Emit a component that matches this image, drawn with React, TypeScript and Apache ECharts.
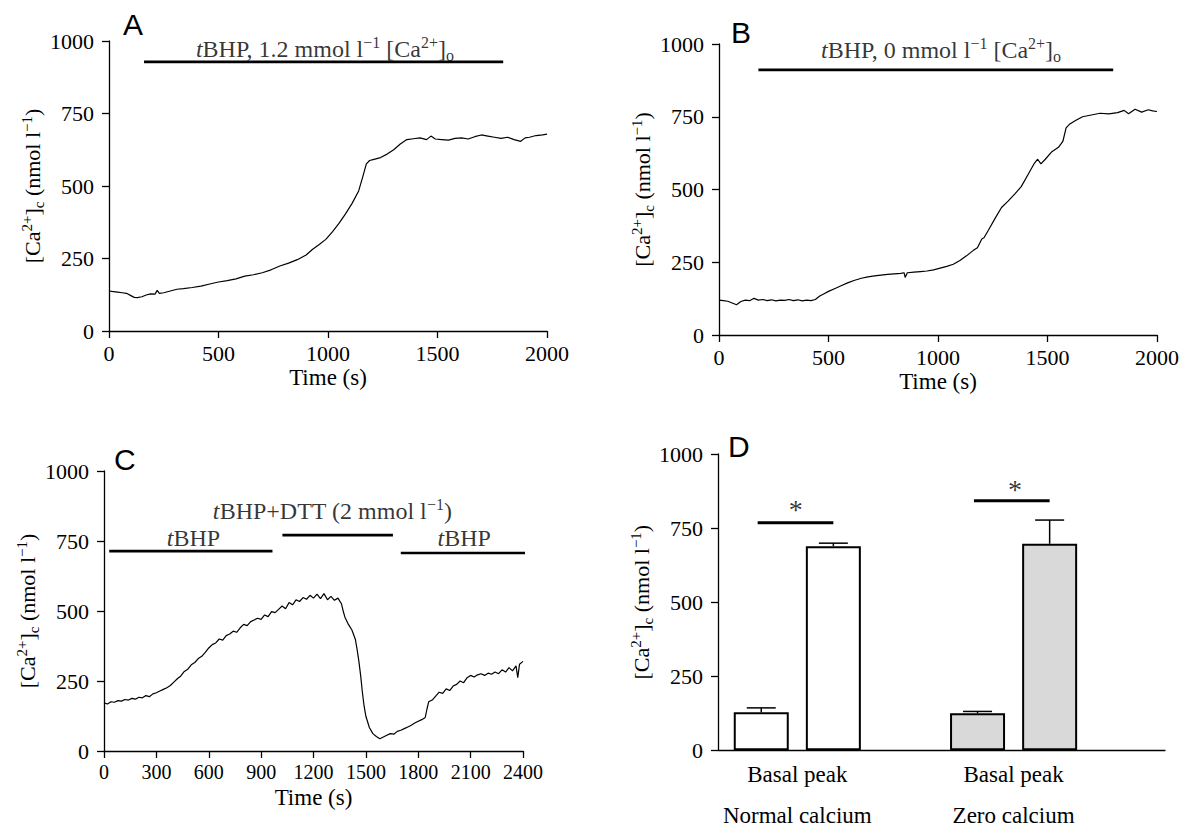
import React, { useEffect, useRef } from 'react';
import * as echarts from 'echarts';

// ---------- Panel A ----------
const timeA = [0, 20, 40, 60, 80, 100, 115, 130, 150, 170, 190, 210, 220, 230, 250, 280, 310, 340, 380, 420, 460, 500, 540, 580, 620, 660, 700, 740, 780, 820, 860, 900, 930, 960, 990, 1020, 1050, 1080, 1110, 1140, 1160, 1175, 1190, 1210, 1240, 1270, 1300, 1330, 1360, 1390, 1420, 1450, 1470, 1490, 1520, 1550, 1580, 1610, 1640, 1670, 1700, 1730, 1760, 1790, 1820, 1850, 1880, 1900, 1920, 1950, 1980, 2000];
const caA = [138, 136, 134, 132, 130, 122, 116, 115, 118, 124, 128, 127, 140, 130, 132, 138, 144, 146, 150, 155, 162, 169, 174, 180, 189, 194, 201, 211, 224, 234, 246, 262, 282, 298, 316, 342, 371, 404, 440, 483, 535, 576, 588, 592, 598, 610, 625, 645, 660, 663, 666, 660, 672, 662, 660, 658, 664, 666, 662, 670, 676, 672, 668, 664, 668, 660, 654, 666, 668, 674, 676, 679];
const treatA = [[160, 1800, 928]];
const labelA = [[986, 972]];

// ---------- Panel B ----------
const timeB = [0, 20, 40, 60, 80, 100, 120, 140, 160, 180, 200, 220, 240, 260, 280, 300, 320, 340, 360, 380, 400, 420, 440, 460, 480, 500, 530, 560, 590, 620, 650, 680, 710, 740, 770, 800, 830, 845, 850, 860, 890, 920, 950, 980, 1010, 1040, 1070, 1100, 1130, 1160, 1180, 1200, 1210, 1230, 1260, 1290, 1320, 1350, 1380, 1410, 1440, 1455, 1470, 1490, 1520, 1550, 1570, 1585, 1600, 1630, 1660, 1700, 1740, 1780, 1820, 1850, 1870, 1900, 1930, 1960, 1980, 2000];
const caB = [120, 118, 116, 110, 104, 115, 120, 118, 126, 120, 122, 118, 121, 117, 120, 119, 122, 118, 121, 117, 120, 118, 122, 134, 142, 150, 160, 170, 180, 188, 195, 200, 203, 206, 208, 210, 212, 214, 198, 214, 216, 218, 220, 224, 230, 236, 243, 256, 272, 290, 300, 330, 334, 360, 400, 438, 460, 484, 510, 550, 590, 604, 588, 604, 630, 645, 665, 712, 724, 738, 750, 756, 762, 760, 764, 772, 760, 776, 766, 774, 770, 768];
const treatB = [[180, 1800, 911]];
const labelB = [[1014, 980]];

// ---------- Panel C ----------
const timeC = [0, 20, 40, 60, 80, 100, 120, 140, 160, 180, 200, 220, 240, 260, 280, 300, 320, 340, 360, 380, 400, 420, 440, 460, 480, 500, 520, 540, 560, 580, 600, 620, 640, 660, 680, 700, 720, 740, 760, 780, 800, 820, 840, 860, 880, 900, 920, 940, 960, 980, 1000, 1020, 1040, 1060, 1080, 1100, 1120, 1140, 1160, 1180, 1200, 1220, 1240, 1260, 1280, 1300, 1320, 1340, 1360, 1370, 1380, 1400, 1420, 1440, 1450, 1460, 1470, 1480, 1490, 1500, 1520, 1540, 1560, 1580, 1600, 1620, 1640, 1660, 1680, 1700, 1720, 1740, 1760, 1780, 1800, 1820, 1840, 1850, 1860, 1880, 1900, 1920, 1940, 1960, 1980, 2000, 2020, 2040, 2060, 2080, 2100, 2120, 2140, 2160, 2180, 2200, 2220, 2240, 2260, 2280, 2300, 2320, 2340, 2360, 2370, 2380, 2400];
const caC = [172, 168, 176, 174, 180, 178, 184, 182, 188, 185, 192, 190, 198, 194, 204, 208, 214, 220, 226, 234, 246, 258, 268, 284, 292, 308, 316, 330, 338, 352, 368, 380, 386, 400, 396, 412, 418, 428, 424, 440, 452, 448, 462, 468, 474, 470, 486, 480, 498, 494, 506, 518, 508, 530, 522, 540, 534, 548, 542, 556, 546, 560, 544, 562, 540, 552, 538, 546, 526, 500, 478, 452, 432, 398, 362, 320, 270, 210, 160, 124, 84, 62, 52, 44, 50, 56, 62, 60, 70, 74, 80, 86, 92, 100, 106, 112, 120, 150, 176, 182, 196, 210, 206, 222, 216, 232, 238, 250, 244, 262, 270, 264, 272, 276, 270, 278, 274, 282, 276, 290, 282, 298, 286, 304, 262, 310, 320];
const treatC = [[30, 965, 714], [1022, 1655, 771], [1700, 2427, 707]];
const labelC = [[512, 762], [1308, 857], [2063, 762]];

// ---------- Panel D ----------
const barPositions = [0, 1, 3, 4];
const barMeans = [128, 689, 125, 697];
const barErrors = [15, 10, 6, 80];
const barColors = ['#ffffff', '#ffffff', '#d9d9d9', '#d9d9d9'];
const groupCenters = [0.5, 3.5];
const groupNames = ['Normal calcium', 'Zero calcium'];
const sigLines = [[-0.05, 1.0, 768], [2.95, 4.0, 842]];
const stars = [[0.48, 812], [3.52, 879]];

const yTicks = { min: 0, max: 1000, interval: 250 };

const SERIF = 'Liberation Serif, Times New Roman, serif';
const SANS = 'Liberation Sans, Arial, sans-serif';

function makeRich(size: number, supSize: number, lh: number) {
  return {
    n: { fontFamily: SERIF, fontSize: size, lineHeight: lh, color: '#000' },
    it: { fontFamily: SERIF, fontSize: size, lineHeight: lh, fontStyle: 'italic', color: '#000' },
    sup: { fontFamily: SERIF, fontSize: supSize, lineHeight: supSize, verticalAlign: 'top', color: '#000' },
    sub: { fontFamily: SERIF, fontSize: supSize, lineHeight: supSize, verticalAlign: 'bottom', color: '#000' },
  };
}
const nameRich = makeRich(22, 15, 27);
const titleRich = makeRich(24, 16, 29);

const yName = '{n|[Ca}{sup|2+}{n|]}{sub|c}{n| (nmol l}{sup|−1}{n|)}';

const plain = (v: number) => String(v);

function yAxis(gridIndex: number) {
  return {
    type: 'value',
    gridIndex,
    min: yTicks.min,
    max: yTicks.max,
    interval: yTicks.interval,
    name: yName,
    nameLocation: 'middle',
    nameRotate: 90,
    nameGap: 63,
    nameTextStyle: { fontFamily: SERIF, fontSize: 22, color: '#000', lineHeight: 27, rich: nameRich },
    axisLine: { show: true, onZero: false, lineStyle: { color: '#000', width: 1.3 } },
    axisTick: { show: true, length: 7, lineStyle: { color: '#000', width: 1.3 } },
    axisLabel: { fontFamily: SERIF, fontSize: 22, color: '#000', margin: 15, formatter: plain },
    splitLine: { show: false },
  };
}

function xAxis(gridIndex: number, max: number, interval: number, fontSize: number) {
  return {
    type: 'value',
    gridIndex,
    min: 0,
    max,
    interval,
    name: 'Time (s)',
    nameLocation: 'middle',
    nameGap: 35,
    nameTextStyle: { fontFamily: SERIF, fontSize: 23, color: '#000' },
    axisLine: { show: true, onZero: false, lineStyle: { color: '#000', width: 1.3 } },
    axisTick: { show: true, length: 7, lineStyle: { color: '#000', width: 1.3 } },
    axisLabel: { fontFamily: SERIF, fontSize, color: '#000', margin: 11, formatter: plain },
    splitLine: { show: false },
  };
}

function trace(idx: number, t: number[], v: number[]) {
  return {
    type: 'line',
    xAxisIndex: idx,
    yAxisIndex: idx,
    data: t.map((x, i) => [x, v[i]]),
    showSymbol: false,
    symbol: 'none',
    lineStyle: { color: '#000', width: 1.2 },
    silent: true,
  };
}

function treatLines(idx: number, rows: number[][]) {
  return rows.map((r) => ({
    type: 'line',
    xAxisIndex: idx,
    yAxisIndex: idx,
    data: [[r[0], r[2]], [r[1], r[2]]],
    showSymbol: false,
    symbol: 'none',
    clip: false,
    lineStyle: { color: '#000', width: 2.6 },
    silent: true,
  }));
}

function textLabels(idx: number, pts: number[][], texts: string[]) {
  return {
    type: 'scatter',
    xAxisIndex: idx,
    yAxisIndex: idx,
    symbolSize: 1,
    itemStyle: { color: 'rgba(0,0,0,0)' },
    silent: true,
    clip: false,
    data: pts.map((p, i) => ({
      value: p,
      label: {
        show: true,
        position: 'inside',
        formatter: texts[i],
        fontFamily: SERIF,
        fontSize: 24,
        lineHeight: 29,
        color: '#000',
        rich: titleRich,
      },
    })),
  };
}

export default function App() {
  const ref = useRef<HTMLDivElement>(null);
  useEffect(() => {
    if (!ref.current) return;
    const chart = echarts.init(ref.current, null, { renderer: 'svg' });

    const option: any = {
      animation: false,
      backgroundColor: '#fff',
      textStyle: { fontFamily: SERIF, color: '#000' },
      grid: [
        { left: 109, top: 41, width: 438, height: 290 },
        { left: 719, top: 44, width: 438, height: 291 },
        { left: 104, top: 471, width: 419, height: 280 },
        { left: 718, top: 454, width: 447, height: 299 },
      ],
      xAxis: [
        xAxis(0, 2000, 500, 22),
        xAxis(1, 2000, 500, 22),
        xAxis(2, 2400, 300, 20),
        {
          type: 'value',
          gridIndex: 3,
          min: -0.6,
          max: 5.6,
          axisLine: { show: true, onZero: false, lineStyle: { color: '#000', width: 1.3 } },
          axisTick: { show: false },
          splitLine: { show: false },
          axisLabel: {
            customValues: groupCenters,
            fontFamily: SERIF,
            fontSize: 23,
            lineHeight: 20.5,
            color: '#000',
            margin: 14,
            formatter: (v: number) => {
              const i = groupCenters.indexOf(v);
              return i >= 0 ? 'Basal peak\n\n' + groupNames[i] : '';
            },
          },
        },
      ],
      yAxis: [yAxis(0), yAxis(1), yAxis(2), yAxis(3)],
      graphic: [
        { type: 'text', x: 123, y: 9, style: { text: 'A', fontFamily: SANS, fontSize: 30, fill: '#000' } },
        { type: 'text', x: 731, y: 17, style: { text: 'B', fontFamily: SANS, fontSize: 30, fill: '#000' } },
        { type: 'text', x: 114, y: 444, style: { text: 'C', fontFamily: SANS, fontSize: 30, fill: '#000' } },
        { type: 'text', x: 728, y: 431, style: { text: 'D', fontFamily: SANS, fontSize: 30, fill: '#000' } },
      ],
      series: [
        trace(0, timeA, caA),
        ...treatLines(0, treatA),
        textLabels(0, labelA, ['{it|t}{n|BHP, 1.2 mmol l}{sup|−1}{n| [Ca}{sup|2+}{n|]}{sub|o}']),
        trace(1, timeB, caB),
        ...treatLines(1, treatB),
        textLabels(1, labelB, ['{it|t}{n|BHP, 0 mmol l}{sup|−1}{n| [Ca}{sup|2+}{n|]}{sub|o}']),
        trace(2, timeC, caC),
        ...treatLines(2, treatC),
        textLabels(2, labelC, ['{it|t}{n|BHP}', '{it|t}{n|BHP+DTT (2 mmol l}{sup|−1}{n|)}', '{it|t}{n|BHP}']),
        {
          type: 'bar',
          xAxisIndex: 3,
          yAxisIndex: 3,
          barWidth: 55,
          silent: true,
          data: barPositions.map((p, i) => ({
            value: [p, barMeans[i]],
            itemStyle: { color: barColors[i], borderColor: '#000', borderWidth: 2 },
          })),
        },
        {
          type: 'custom',
          xAxisIndex: 3,
          yAxisIndex: 3,
          silent: true,
          z: 5,
          encode: { x: 0, y: 1 },
          data: barPositions.map((p, i) => [p, barMeans[i], barErrors[i]]),
          renderItem: (params: any, api: any) => {
            const x = api.value(0);
            const y = api.value(1);
            const e = api.value(2);
            const p0 = api.coord([x, y]);
            const p1 = api.coord([x, y + e]);
            const half = 14.5;
            return {
              type: 'group',
              children: [
                { type: 'line', shape: { x1: p0[0], y1: p0[1], x2: p1[0], y2: p1[1] }, style: { stroke: '#000', lineWidth: 1.5 } },
                { type: 'line', shape: { x1: p1[0] - half, y1: p1[1], x2: p1[0] + half, y2: p1[1] }, style: { stroke: '#000', lineWidth: 1.5 } },
              ],
            };
          },
        },
        ...sigLines.map((r) => ({
          type: 'line',
          xAxisIndex: 3,
          yAxisIndex: 3,
          data: [[r[0], r[2]], [r[1], r[2]]],
          showSymbol: false,
          symbol: 'none',
          silent: true,
          clip: false,
          lineStyle: { color: '#000', width: 3 },
        })),
        {
          type: 'scatter',
          xAxisIndex: 3,
          yAxisIndex: 3,
          symbolSize: 1,
          itemStyle: { color: 'rgba(0,0,0,0)' },
          silent: true,
          data: stars.map((s) => ({
            value: s,
            label: { show: true, position: 'inside', formatter: '*', fontFamily: SERIF, fontSize: 28, color: '#000' },
          })),
        },
      ],
    };
    chart.setOption(option);
    return () => chart.dispose();
  }, []);

  return (
    <div
      ref={ref}
      style={{ position: 'fixed', left: 0, top: 0, width: 1182, height: 827, background: '#fff' }}
    />
  );
}
